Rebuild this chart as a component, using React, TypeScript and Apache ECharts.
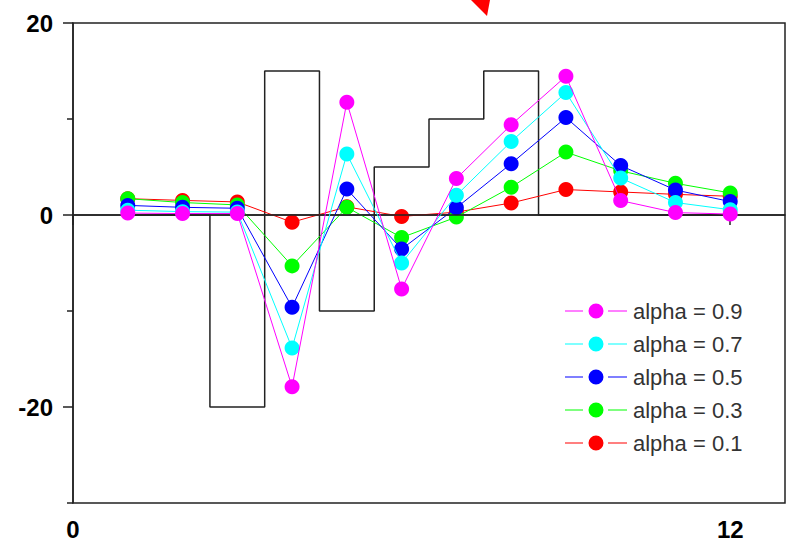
import React, { useEffect, useRef } from "react";
import * as echarts from "echarts";

const xValues = [1, 2, 3, 4, 5, 6, 7, 8, 9, 10, 11, 12];
const inputValues = [0, 0, -20, 15, -10, 5, 10, 15, 0, 0, 0, 0];
const alpha01 = [1.7, 1.52, 1.36, -0.75, 0.85, -0.15, 0.3, 1.25, 2.65, 2.4, 2.15, 1.95];
const alpha03 = [1.7, 1.3, 1.05, -5.3, 0.8, -2.35, -0.22, 2.9, 6.55, 4.6, 3.3, 2.3];
const alpha05 = [1.0, 0.8, 0.7, -9.6, 2.7, -3.55, 0.75, 5.35, 10.15, 5.15, 2.6, 1.4];
const alpha07 = [0.5, 0.35, 0.3, -13.85, 6.35, -5.0, 2.05, 7.65, 12.75, 3.85, 1.3, 0.55];
const alpha09 = [0.2, 0.15, 0.15, -17.9, 11.75, -7.7, 3.8, 9.4, 14.45, 1.5, 0.25, 0.1];

const seriesNames = ["alpha = 0.1", "alpha = 0.3", "alpha = 0.5", "alpha = 0.7", "alpha = 0.9"];
const seriesColors = ["#ff0000", "#00ff00", "#0000ff", "#00ffff", "#ff00ff"];
const seriesValues = [alpha01, alpha03, alpha05, alpha07, alpha09];
const legendOrder = ["alpha = 0.9", "alpha = 0.7", "alpha = 0.5", "alpha = 0.3", "alpha = 0.1"];

const xMajorTicks = [0, 12];
const xMinorTicks = [6];
const yMajorTicks = [-20, 0, 20];
const yMinorTicks = [-30, -10, 10];

const FONT = "'Liberation Sans', Arial, sans-serif";
const AXIS_COLOR = "#222";
// legend glyph: line segment, gap, dot, gap, line segment (62 x 16 box)
const LEGEND_ICON =
  "path://M0,7.4L18,7.4L18,8.6L0,8.6Z M23.5,8A7.5,7.5 0 1,0 38.5,8A7.5,7.5 0 1,0 23.5,8Z M43,7.4L62,7.4L62,8.6L43,8.6Z M0,0L0.01,0L0.01,0.01Z M61.99,15.99L62,15.99L62,16Z";

export default function App() {
  const ref = useRef<HTMLDivElement>(null);

  useEffect(() => {
    if (!ref.current) return;
    const chart = echarts.init(ref.current, undefined, { renderer: "svg" });
    const axisLineStyle = { color: AXIS_COLOR, width: 1.5 };
    const labelStyle = {
      fontSize: 24,
      fontWeight: "bold" as const,
      color: "#000",
      fontFamily: FONT,
    };
    const option: any = {
      animation: false,
      backgroundColor: "#fff",
      grid: {
        left: 73,
        top: 23,
        right: 4,
        bottom: 44,
        show: true,
        borderColor: AXIS_COLOR,
        borderWidth: 1.5,
        backgroundColor: "transparent",
      },
      xAxis: [
        {
          type: "value",
          min: 0,
          max: 13,
          position: "bottom",
          axisLine: { show: true, lineStyle: axisLineStyle },
          axisTick: { show: true, length: 10, customValues: xMajorTicks, lineStyle: axisLineStyle },
          axisLabel: { show: true, customValues: xMajorTicks, margin: 14, ...labelStyle },
          splitLine: { show: false },
        },
        {
          type: "value",
          min: 0,
          max: 13,
          position: "bottom",
          offset: 0,
          axisLine: { show: false },
          axisTick: { show: true, length: 6, customValues: xMinorTicks, lineStyle: axisLineStyle },
          axisLabel: { show: false },
          splitLine: { show: false },
        },
      ],
      yAxis: [
        {
          type: "value",
          min: -30,
          max: 20,
          position: "left",
          axisLine: { show: true, lineStyle: axisLineStyle },
          axisTick: { show: true, length: 10, customValues: yMajorTicks, lineStyle: axisLineStyle },
          axisLabel: { show: true, customValues: yMajorTicks, margin: 20, ...labelStyle },
          splitLine: { show: false },
        },
        {
          type: "value",
          min: -30,
          max: 20,
          position: "left",
          offset: 0,
          axisLine: { show: false },
          axisTick: { show: true, length: 6, customValues: yMinorTicks, lineStyle: axisLineStyle },
          axisLabel: { show: false },
          splitLine: { show: false },
        },
      ],
      legend: {
        data: legendOrder.map((name) => ({
          name,
          icon: LEGEND_ICON,
          itemStyle: { color: seriesColors[seriesNames.indexOf(name)], borderWidth: 0 },
        })),
        orient: "vertical",
        left: 565,
        top: 300,
        padding: 0,
        itemWidth: 62,
        itemHeight: 16,
        itemGap: 11,
        textStyle: { fontSize: 22, color: "#333", fontFamily: FONT, lineHeight: 20, padding: [0, 0, 0, 1] },
      },
      graphic: [
        {
          type: "polygon",
          shape: { points: [[471, 0], [490, 0], [487, 16]] },
          style: { fill: "#ff0000" },
          silent: true,
        },
      ],
      series: [
        {
          name: "input",
          type: "line",
          xAxisIndex: 0,
          yAxisIndex: 0,
          step: "middle",
          symbol: "none",
          data: xValues.map((x, i) => [x, inputValues[i]]),
          lineStyle: { color: AXIS_COLOR, width: 1.5 },
          itemStyle: { color: AXIS_COLOR },
          silent: true,
          z: 1,
          markLine: {
            silent: true,
            symbol: ["none", "none"],
            label: { show: false },
            lineStyle: { color: AXIS_COLOR, width: 1.5, type: "solid" },
            data: [{ yAxis: 0 }],
          },
        },
        ...seriesNames.map((name, k) => ({
          name,
          type: "line",
          xAxisIndex: 0,
          yAxisIndex: 0,
          symbol: "circle",
          symbolSize: 15,
          data: xValues.map((x, i) => [x, seriesValues[k][i]]),
          lineStyle: { color: seriesColors[k], width: 1 },
          itemStyle: { color: seriesColors[k] },
          z: 2 + k,
        })),
      ],
    };
    chart.setOption(option);
    return () => chart.dispose();
  }, []);

  return (
    <div
      ref={ref}
      style={{ position: "fixed", left: 0, top: 0, width: 789, height: 547 }}
    />
  );
}
